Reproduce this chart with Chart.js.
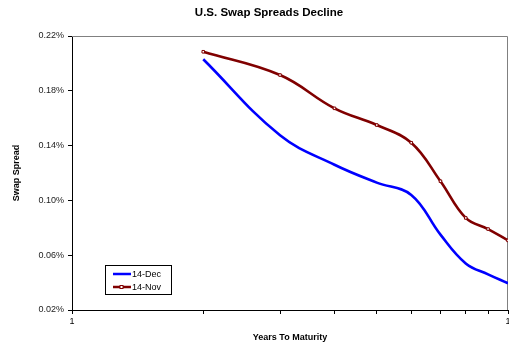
<!DOCTYPE html>
<html>
<head>
<meta charset="utf-8">
<script src="https://cdn.jsdelivr.net/npm/chart.js@4.4.1/dist/chart.umd.min.js"></script>
<style>
  html, body { margin: 0; padding: 0; background: #fff; }
</style>
</head>
<body>
<canvas id="graficaSwap" width="509" height="348"></canvas>
<script>
// Datos (diferencial swap en %)
const tituloGrafica = 'U.S. Swap Spreads Decline';
const years = [2, 3, 4, 5, 6, 7, 8, 9, 10];
const dec14 = [0.203, 0.1475, 0.126, 0.113, 0.104, 0.075, 0.054, 0.046, 0.0395];
const nov14 = [0.2085, 0.1915, 0.1672, 0.155, 0.1421, 0.114, 0.0872, 0.0791, 0.0708];
const yTicks = [0.02, 0.06, 0.10, 0.14, 0.18, 0.22];
const xTicks = [1, 2, 3, 4, 5, 6, 7, 8, 9, 10];
// la etiqueta de 10 sale cortada en el original: solo se ve "1"
const xTickLabels = ['1', '', '', '', '', '', '', '', '', '1'];

const FUENTE = "'Liberation Sans', Arial, sans-serif";
const BORDE_DERECHO = 508; // el area llega casi al borde del lienzo

// titulo, borde gris y leyenda dentro del area
const extras = {
    id: 'extras',
    afterLayout(chart) {
        // Chart.js deja margen para la ultima etiqueta; lo quitamos
        const x = chart.scales.x;
        chart.chartArea.right = BORDE_DERECHO;
        chart.chartArea.width = BORDE_DERECHO - chart.chartArea.left;
        x.right = BORDE_DERECHO;
        x.width = BORDE_DERECHO - x.left;
        x.configure();
        const y = chart.scales.y;
        y.configure();
    },
    beforeDatasetsDraw(chart) {
        const { ctx, chartArea: a } = chart;
        ctx.save();
        ctx.strokeStyle = '#808080';
        ctx.lineWidth = 1;
        ctx.beginPath();
        ctx.moveTo(a.left, a.top + 0.5);
        ctx.lineTo(a.right - 0.5, a.top + 0.5);
        ctx.lineTo(a.right - 0.5, a.bottom);
        ctx.stroke();
        ctx.restore();
    },
    afterDraw(chart) {
        const ctx = chart.ctx;
        ctx.save();
        ctx.fillStyle = '#000';
        ctx.font = 'bold 11.5px ' + FUENTE;
        ctx.textAlign = 'center';
        ctx.textBaseline = 'middle';
        ctx.fillText(tituloGrafica, 269, 13);

        // leyenda
        ctx.fillStyle = '#fff';
        ctx.fillRect(105.5, 265.5, 66, 29);
        ctx.strokeStyle = '#000';
        ctx.lineWidth = 1;
        ctx.strokeRect(105.5, 265.5, 66, 29);
        ctx.font = '9px ' + FUENTE;
        ctx.textAlign = 'left';
        chart.data.datasets.forEach((ds, i) => {
            const y = 274 + i * 13;
            ctx.strokeStyle = ds.borderColor;
            ctx.lineWidth = 2.5;
            ctx.beginPath();
            ctx.moveTo(113, y);
            ctx.lineTo(131, y);
            ctx.stroke();
            if (ds.pointRadius > 0) {
                ctx.fillStyle = '#fff';
                ctx.fillRect(120, y - 1.5, 3, 3);
                ctx.lineWidth = 1;
                ctx.strokeRect(120, y - 1.5, 3, 3);
            }
            ctx.fillStyle = '#000';
            ctx.fillText(ds.label, 132, y + 0.5);
        });
        ctx.restore();
    }
};

const ctx = document.getElementById('graficaSwap').getContext('2d');

new Chart(ctx, {
    type: 'line',
    data: {
        datasets: [
            {
                label: '14-Dec',
                data: years.map((x, i) => ({ x: x, y: dec14[i] })),
                borderColor: '#0000ff',
                backgroundColor: '#0000ff',
                borderWidth: 2.6,
                pointRadius: 0,
                tension: 0.4
            },
            {
                label: '14-Nov',
                data: years.map((x, i) => ({ x: x, y: nov14[i] })),
                borderColor: '#800000',
                backgroundColor: '#fff',
                borderWidth: 2.6,
                pointStyle: 'rect',
                pointRadius: 1.8,
                pointBorderWidth: 1,
                tension: 0.4
            }
        ]
    },
    options: {
        responsive: false,
        animation: false,
        layout: { padding: { top: 36, right: 0, left: 0, bottom: 0 } },
        plugins: {
            legend: { display: false },
            title: { display: false },
            tooltip: { enabled: false }
        },
        scales: {
            x: {
                type: 'logarithmic',
                min: 1,
                max: 10,
                afterBuildTicks: scale => { scale.ticks = xTicks.map(v => ({ value: v })); },
                afterFit: scale => { scale.height = 38; },
                grid: { drawOnChartArea: false, tickLength: 4, color: '#000' },
                border: { color: '#000', width: 1 },
                ticks: {
                    autoSkip: false,
                    maxRotation: 0,
                    padding: 2,
                    color: '#000',
                    font: { family: FUENTE, size: 9 },
                    callback: (v, i) => xTickLabels[i]
                },
                title: {
                    display: true,
                    text: 'Years To Maturity',
                    color: '#000',
                    font: { family: FUENTE, size: 9, weight: 'bold' },
                    padding: { top: 0, bottom: 5.5 }
                }
            },
            y: {
                min: 0.02,
                max: 0.22,
                afterBuildTicks: scale => { scale.ticks = yTicks.map(v => ({ value: v })); },
                afterFit: scale => { scale.width = 72; },
                grid: { drawOnChartArea: false, tickLength: 4, color: '#000' },
                border: { color: '#000', width: 1 },
                ticks: {
                    padding: 4,
                    color: '#222',
                    font: { family: FUENTE, size: 9 },
                    callback: v => v.toFixed(2) + '%'
                },
                title: {
                    display: true,
                    text: 'Swap Spread',
                    color: '#000',
                    font: { family: FUENTE, size: 9, weight: 'bold' },
                    padding: { top: 11, bottom: 0 }
                }
            }
        }
    },
    plugins: [extras]
});
</script>
</body>
</html>
